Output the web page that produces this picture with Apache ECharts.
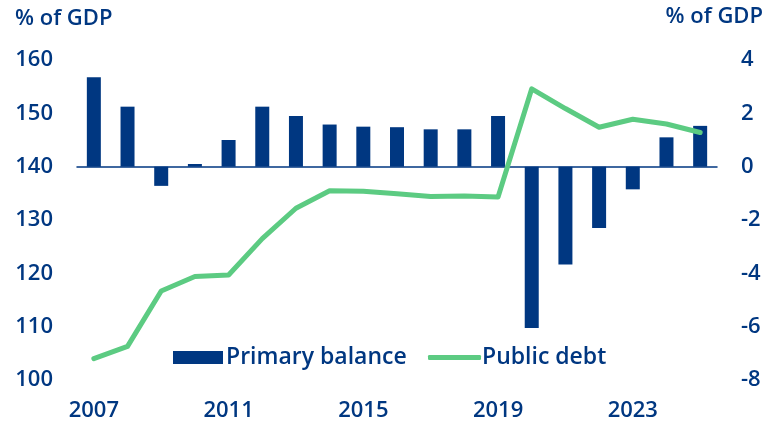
<!DOCTYPE html>
<html><head><meta charset="utf-8">
<script src="https://cdn.jsdelivr.net/npm/echarts@6/dist/echarts.min.js"></script>
<style>html,body{margin:0;padding:0;background:#fff}#c{width:765px;height:428px}</style>
</head><body><div id="c"></div>
<script>
const years = ['2007','2008','2009','2010','2011','2012','2013','2014','2015','2016','2017','2018','2019','2020','2021','2022','2023','2024','2025'];
const primaryBalance = [3.35, 2.25, -0.72, 0.1, 1.0, 2.25, 1.9, 1.58, 1.5, 1.48, 1.4, 1.4, 1.9, -6.05, -3.67, -2.3, -0.85, 1.1, 1.53];
const publicDebt = [104.0, 106.3, 116.7, 119.4, 119.7, 126.5, 132.2, 135.5, 135.4, 134.9, 134.4, 134.5, 134.3, 154.6, 150.9, 147.4, 148.9, 148.0, 146.4];
const leftTicks = [100, 160, 10];
const rightTicks = [-8, 4, 2];

const NAVY = '#003781';
const GREEN = '#5ccb82';
const FONT = 'Open Sans';
const FS = 22;
const FW = 600;
const chart = echarts.init(document.getElementById('c'));
chart.setOption({
  animation: false,
  textStyle: {fontFamily: FONT, color: NAVY, fontWeight: FW},
  title: [
    {text: '% of GDP', left: 10, top: 3, textStyle: {fontFamily: FONT, fontSize: FS, fontWeight: FW, color: NAVY}},
    {text: '% of GDP', right: -3, top: 1, textStyle: {fontFamily: FONT, fontSize: FS, fontWeight: FW, color: NAVY}}
  ],
  grid: {left: 77, right: 48, top: 60, bottom: 48, containLabel: false},
  legend: [
    {left: 168, top: 341, itemWidth: 50, itemHeight: 13,
     textStyle: {fontFamily: FONT, fontSize: 23, fontWeight: FW, color: NAVY, padding: [0,0,0,-2]},
     data: [{name: 'Primary balance', icon: 'rect'}]},
    {left: 423, top: 341, itemWidth: 53, itemHeight: 5,
     textStyle: {fontFamily: FONT, fontSize: 23, fontWeight: FW, color: NAVY, padding: [0,0,0,-4]},
     data: [{name: 'Public debt', icon: 'roundRect'}]}
  ],
  xAxis: {
    type: 'category', data: years, boundaryGap: true,
    axisLine: {lineStyle: {color: NAVY, width: 1.5}},
    axisTick: {interval: 3, length: 6, lineStyle: {color: NAVY, width: 1.5}},
    axisLabel: {interval: 3, fontFamily: FONT, fontSize: FS, fontWeight: FW, color: NAVY, margin: 20}
  },
  yAxis: [
    {type: 'value', min: leftTicks[0], max: leftTicks[1], interval: leftTicks[2], position: 'left',
     splitLine: {show: false}, axisLine: {show: false}, axisTick: {show: false},
     axisLabel: {fontFamily: FONT, fontSize: FS, fontWeight: FW, color: NAVY, margin: 24}},
    {type: 'value', min: rightTicks[0], max: rightTicks[1], interval: rightTicks[2], position: 'right',
     splitLine: {show: false}, axisLine: {show: false}, axisTick: {show: false},
     axisLabel: {fontFamily: FONT, fontSize: FS, fontWeight: FW, color: NAVY, margin: 24}}
  ],
  series: [
    {name: 'Primary balance', type: 'bar', yAxisIndex: 1, data: primaryBalance, barWidth: 14,
     itemStyle: {color: NAVY}},
    {name: 'Public debt', type: 'line', yAxisIndex: 0, data: publicDebt, showSymbol: false, symbol: 'none',
     lineStyle: {color: GREEN, width: 5, cap: 'round', join: 'round'}, itemStyle: {color: GREEN}}
  ]
});
</script></body></html>
